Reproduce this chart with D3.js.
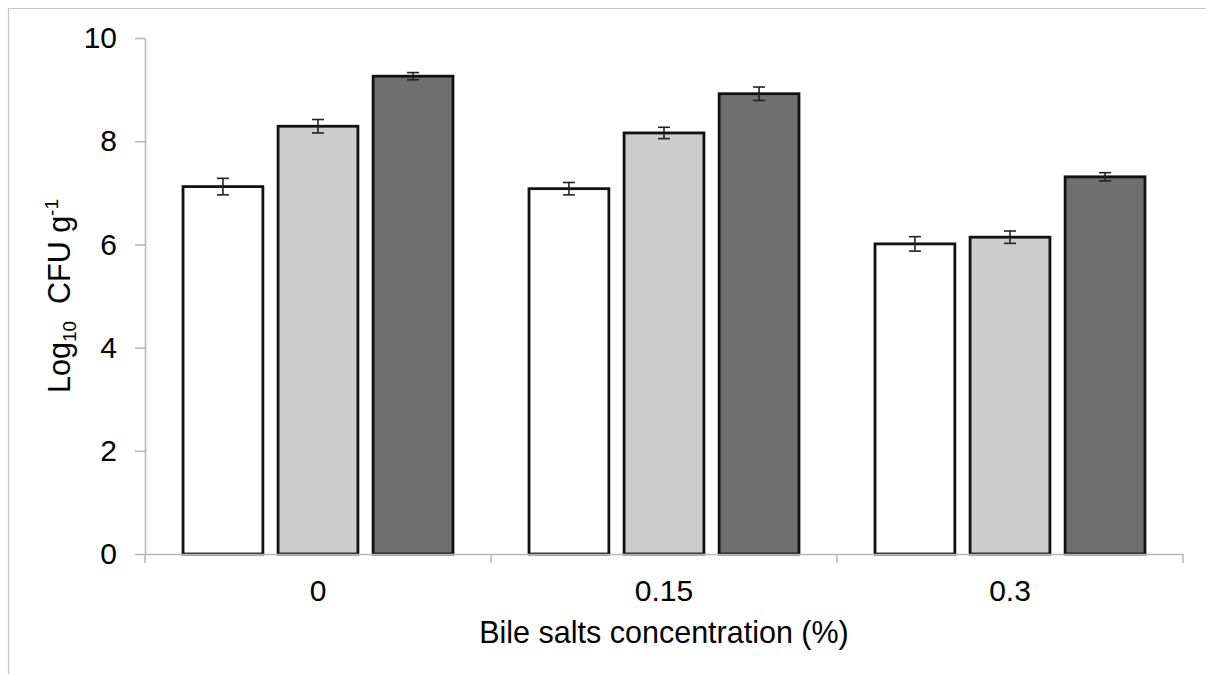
<!DOCTYPE html>
<html>
<head>
<meta charset="utf-8">
<script src="https://cdn.jsdelivr.net/npm/d3@7"></script>
<style>
  body { margin: 0; background: #fff; overflow: hidden; }
  svg { display: block; font-family: "Liberation Sans", Arial, sans-serif; }
</style>
</head>
<body>
<div id="chart"></div>
<script>
// data
const CATEGORIES = ["0", "0.15", "0.3"];
const SERIES = ["s1", "s2", "s3"];
const S1_VALUES = [7.12, 7.08, 6.01];
const S2_VALUES = [8.29, 8.16, 6.14];
const S3_VALUES = [9.26, 8.92, 7.31];
const S1_ERR = [0.16, 0.12, 0.14];
const S2_ERR = [0.13, 0.11, 0.12];
const S3_ERR = [0.07, 0.13, 0.08];
const Y_TICKS = [0, 2, 4, 6, 8, 10];

const FRAME_WIDTH = 1206;
const FRAME_HEIGHT = 674;
const MARGINS = {left: 145, right: 23, top: 38, bottom: 120};
const COLORS = ["#ffffff", "#cccccc", "#6f6f6f"];

const FRAME = d3.select("#chart")
                  .append("svg")
                    .attr("width", FRAME_WIDTH)
                    .attr("height", FRAME_HEIGHT);

// light border (only top and left edges show in the picture)
FRAME.append("path")
    .attr("d", "M8.5," + FRAME_HEIGHT + "V8.5H" + FRAME_WIDTH)
    .attr("fill", "none").attr("stroke", "#c4c4c4").attr("stroke-width", 1.2);

const X0 = d3.scaleBand()
              .domain(CATEGORIES)
              .range([MARGINS.left, FRAME_WIDTH - MARGINS.right]);
const X1 = d3.scaleBand()
              .domain(SERIES)
              .range([0, X0.bandwidth()])
              .paddingInner(0.16)
              .paddingOuter(0.4);
const Y = d3.scaleLinear()
             .domain([0, 10])
             .range([FRAME_HEIGHT - MARGINS.bottom, MARGINS.top]);

const values = [S1_VALUES, S2_VALUES, S3_VALUES];
const errs = [S1_ERR, S2_ERR, S3_ERR];
const rows = [];
CATEGORIES.forEach((c, i) => {
    SERIES.forEach((s, j) => {
        rows.push({cat: c, ser: s, v: values[j][i], e: errs[j][i], color: COLORS[j]});
    });
});

// bars
FRAME.selectAll(".bar")
    .data(rows)
    .enter()
    .append("rect")
      .attr("class", "bar")
      .attr("x", d => X0(d.cat) + X1(d.ser))
      .attr("y", d => Y(d.v))
      .attr("width", X1.bandwidth())
      .attr("height", d => Y(0) - Y(d.v))
      .attr("fill", d => d.color)
      .attr("stroke", "#111")
      .attr("stroke-width", 2.8);

// error bars
const eb = FRAME.selectAll(".err")
    .data(rows)
    .enter()
    .append("g")
      .attr("class", "err")
      .attr("stroke", "#222")
      .attr("stroke-width", 1.6);
eb.append("line")
    .attr("x1", d => X0(d.cat) + X1(d.ser) + X1.bandwidth() / 2)
    .attr("x2", d => X0(d.cat) + X1(d.ser) + X1.bandwidth() / 2)
    .attr("y1", d => Y(d.v + d.e))
    .attr("y2", d => Y(d.v - d.e));
[1, -1].forEach(sign => {
    eb.append("line")
        .attr("x1", d => X0(d.cat) + X1(d.ser) + X1.bandwidth() / 2 - 6)
        .attr("x2", d => X0(d.cat) + X1(d.ser) + X1.bandwidth() / 2 + 6)
        .attr("y1", d => Y(d.v + sign * d.e))
        .attr("y2", d => Y(d.v + sign * d.e));
});

// y axis
const yAxis = FRAME.append("g")
    .attr("transform", "translate(" + MARGINS.left + ",0)")
    .call(d3.axisLeft(Y).tickValues(Y_TICKS).tickSize(10).tickSizeOuter(0).tickPadding(18));
yAxis.selectAll("text").attr("font-size", "30px").attr("fill", "#000");

// x axis: labels at centres, ticks at the category boundaries
const xAxis = FRAME.append("g")
    .attr("transform", "translate(0," + Y(0) + ")")
    .call(d3.axisBottom(X0).tickSize(0).tickPadding(26).tickSizeOuter(0));
xAxis.selectAll("text").attr("font-size", "30px").attr("fill", "#000");
const bounds = CATEGORIES.map(c => X0(c)).concat([X0.range()[1]]);
xAxis.selectAll(".bound")
    .data(bounds)
    .enter()
    .append("line")
      .attr("class", "bound")
      .attr("x1", d => d).attr("x2", d => d)
      .attr("y1", 0).attr("y2", 9);

FRAME.selectAll(".domain, .tick line, .bound")
    .attr("stroke", "#b8b8b8")
    .attr("stroke-width", 1.6);

// axis titles
FRAME.append("text")
    .attr("x", (X0.range()[0] + X0.range()[1]) / 2)
    .attr("y", 643)
    .attr("text-anchor", "middle")
    .attr("font-size", "30.5px")
    .text("Bile salts concentration (%)");

const yt = FRAME.append("text")
    .attr("transform", "translate(70," + (Y(0) + Y(10)) / 2 + ") rotate(-90)")
    .attr("text-anchor", "middle")
    .attr("font-size", "30.5px");
yt.append("tspan").text("Log");
yt.append("tspan").attr("font-size", "19px").attr("dy", 6).text("10");
yt.append("tspan").attr("dy", -6).text("\u00a0 CFU g");
yt.append("tspan").attr("font-size", "19px").attr("dy", -12).text("-1");
</script>
</body>
</html>
